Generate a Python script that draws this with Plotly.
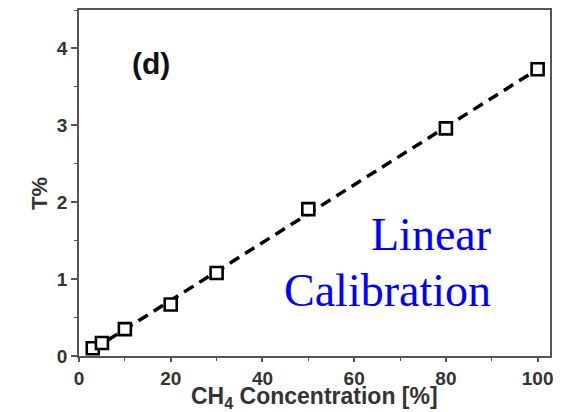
import numpy as np
import plotly.graph_objects as go

# CH4 concentration (%) and measured T%
conc = [3, 5, 10, 20, 30, 50, 80, 100]
t_pct = [0.10, 0.17, 0.35, 0.67, 1.08, 1.91, 2.96, 3.73]

x_ticks = [0, 20, 40, 60, 80, 100]
y_ticks = [0, 1, 2, 3, 4]

# least-squares linear calibration line
slope, intercept = np.polyfit(conc, t_pct, 1)
fit_x = np.array([min(conc), max(conc)])
fit_y = slope * fit_x + intercept

FONT = "Liberation Sans, Arial, sans-serif"
SERIF = "Liberation Serif, Times New Roman, serif"

fig = go.Figure()
fig.add_trace(go.Scatter(
    x=fit_x, y=fit_y, mode="lines",
    line=dict(color="black", width=3.5, dash="11px,7px"),
    showlegend=False, hoverinfo="skip",
))
fig.add_trace(go.Scatter(
    x=conc, y=t_pct, mode="markers",
    marker=dict(symbol="square", size=12, color="white",
                line=dict(color="black", width=2.6)),
    showlegend=False,
))

axis_common = dict(
    showgrid=False, zeroline=False, showline=True, linecolor="#555", linewidth=1.5,
    mirror=True, ticks="outside", tickwidth=1.5, tickcolor="#555",
    tickfont=dict(family=FONT, size=19, color="#333", weight=700),
    automargin=False,
)

fig.update_xaxes(
    range=[0, 102.7], tickvals=x_ticks, ticktext=[f"<b>{v}</b>" for v in x_ticks],
    ticklen=4,
    minor=dict(dtick=10, tick0=0, ticks="outside", ticklen=3, tickwidth=1, tickcolor="#555"),
    **axis_common,
)
fig.update_yaxes(
    range=[0, 4.5], tickvals=y_ticks, ticktext=[f"<b>{v}</b>" for v in y_ticks],
    ticklen=6,
    minor=dict(dtick=0.5, tick0=0, ticks="outside", ticklen=3, tickwidth=1, tickcolor="#555"),
    **axis_common,
)

# axis titles
fig.add_annotation(
    text="<b>CH<sub>4</sub> Concentration [%]</b>", xref="paper", yref="paper",
    x=0.5, y=-0.121, xanchor="center", yanchor="middle", showarrow=False,
    font=dict(family=FONT, size=23, color="#333", weight=700),
)
fig.add_annotation(
    text="<b>T%</b>", xref="paper", yref="paper", textangle=-90,
    x=-0.085, y=0.471, xanchor="center", yanchor="middle", showarrow=False,
    font=dict(family=FONT, size=22, color="#333", weight=700),
)

fig.add_annotation(
    text="<b>(d)</b>", xref="paper", yref="paper", x=0.108, y=0.899,
    showarrow=False, font=dict(family=FONT, size=30, color="#111", weight=700),
)
fig.add_annotation(
    text="Linear", xref="paper", yref="paper", x=0.879, y=0.35,
    xanchor="right", yanchor="middle", showarrow=False,
    font=dict(family=SERIF, size=46, color="#0000ff"),
)
fig.add_annotation(
    text="Calibration", xref="paper", yref="paper", x=0.879, y=0.188,
    xanchor="right", yanchor="middle", showarrow=False,
    font=dict(family=SERIF, size=46, color="#0000ff"),
)

fig.update_layout(
    width=567, height=412,
    margin=dict(l=79, r=17, t=10, b=56),
    paper_bgcolor="white", plot_bgcolor="white",
)

fig.write_html("out.html")
